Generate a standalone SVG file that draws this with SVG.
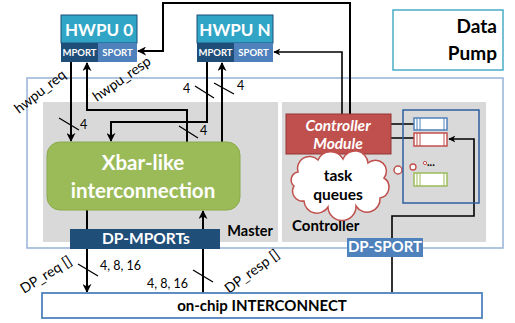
<svg xmlns="http://www.w3.org/2000/svg" width="515" height="323" viewBox="0 0 515 323">
  <defs>
    <marker id="arr" viewBox="0 0 10 10" refX="9" refY="5" markerWidth="4.5" markerHeight="4.5" orient="auto">
      <path d="M0,0 L10,5 L0,10 L3,5 Z" fill="#000"/>
    </marker>
    <style>
      text { font-family: "Lato", "Liberation Sans", sans-serif; }
      .b { font-weight: bold; }
      .wire { fill: none; stroke: #000; stroke-width: 2; }
      .thin { fill: none; stroke: #000; stroke-width: 1.6; }
      .tick { stroke: #000; stroke-width: 1.3; }
      .lbl { font-size: 12.5px; fill: #000; }
      .sig { font-size: 14px; fill: #000; }
      .port { font-size: 9.5px; font-weight: bold; fill: #fff; text-anchor: middle; }
      .hw { font-size: 17px; font-weight: bold; fill: #fff; text-anchor: middle; }
      .q { fill: #fff; stroke-width: 1.5; }
    </style>
  </defs>

  <rect width="515" height="323" fill="#fff"/>

  <!-- Data Pump frame -->
  <g id="datapump">
    <rect x="27" y="78" width="476" height="170" fill="none" stroke="#95b3d7" stroke-width="1.5"/>
    <rect x="43" y="102" width="235" height="140" fill="#d9d9d9"/>
    <rect x="282" y="102" width="204" height="140" fill="#d9d9d9"/>
    <text x="273" y="236" class="b" font-size="14.5" text-anchor="end">Master</text>
    <text x="292" y="231" class="b" font-size="15">Controller</text>
  </g>

  <g id="label-datapump">
    <rect x="393" y="10" width="110" height="60" fill="#fff" stroke="#4bacc6" stroke-width="1.5"/>
    <text x="497" y="33" class="b" font-size="19" text-anchor="end">Data</text>
    <text x="497" y="60" class="b" font-size="19" text-anchor="end">Pump</text>
  </g>

  <!-- Hardware processing units -->
  <g id="hwpu0">
    <rect x="61" y="15" width="76" height="28" fill="#31a5c6" stroke="#1f4e79" stroke-width="1"/>
    <rect x="61" y="43" width="37" height="19" fill="#1f4e79"/>
    <rect x="98" y="43" width="39" height="19" fill="#4f81bd"/>
    <text x="99" y="36" class="hw">HWPU 0</text>
    <text x="79.5" y="56" class="port">MPORT</text>
    <text x="117.5" y="56" class="port">SPORT</text>
  </g>
  <g id="hwpuN">
    <rect x="197" y="15" width="76" height="28" fill="#31a5c6" stroke="#1f4e79" stroke-width="1"/>
    <rect x="197" y="43" width="37" height="19" fill="#1f4e79"/>
    <rect x="234" y="43" width="39" height="19" fill="#4f81bd"/>
    <text x="235" y="36" class="hw">HWPU N</text>
    <text x="215.5" y="56" class="port">MPORT</text>
    <text x="253.5" y="56" class="port">SPORT</text>
  </g>

  <!-- Connectors -->
  <g id="connectors">
    <!-- controller to HWPU slave ports -->
    <path class="wire" d="M350,114 V3 H163 V51 H138" marker-end="url(#arr)"/>
    <path class="thin" d="M342,114 V52 H274" marker-end="url(#arr)"/>
    <!-- HWPU 0 master port -->
    <path class="wire" d="M71,62 V141" marker-end="url(#arr)"/>
    <path class="wire" d="M187,142 V110 H87 V63" marker-end="url(#arr)"/>
    <!-- HWPU N master port -->
    <path class="wire" d="M207,62 V122 H111 V141" marker-end="url(#arr)"/>
    <path class="wire" d="M222,142 V63" marker-end="url(#arr)"/>
    <!-- DP master ports -->
    <path class="wire" d="M87,210 V292" marker-end="url(#arr)"/>
    <path class="wire" d="M203,293 V211" marker-end="url(#arr)"/>
    <!-- DP slave port -->
    <path class="thin" d="M392,293 V216 H474 V139 H449" marker-end="url(#arr)"/>
    <!-- controller to queues -->
    <path class="thin" d="M391,124 H414 M391,138 H414"/>

    <!-- width ticks -->
    <line class="tick" x1="59" y1="118" x2="79" y2="130"/>
    <text x="80" y="129" class="lbl">4</text>
    <line class="tick" x1="179" y1="126" x2="198" y2="138"/>
    <text x="200" y="135" class="lbl">4</text>
    <line class="tick" x1="195" y1="86" x2="214" y2="98"/>
    <text x="183" y="93" class="lbl">4</text>
    <line class="tick" x1="214" y1="83" x2="234" y2="94"/>
    <text x="237" y="90" class="lbl">4</text>
    <line class="tick" x1="78" y1="264" x2="98" y2="276"/>
    <text x="100" y="270" class="lbl">4, 8, 16</text>
    <line class="tick" x1="193" y1="270" x2="213" y2="282"/>
    <text x="147" y="288" class="lbl">4, 8, 16</text>

    <!-- signal names -->
    <text x="0" y="0" class="sig" transform="translate(19,114) rotate(-38)">hwpu_req</text>
    <text x="0" y="0" class="sig" transform="translate(97,102) rotate(-35)">hwpu_resp</text>
    <text x="0" y="0" class="sig" transform="translate(24,294) rotate(-32)">DP_req []</text>
    <text x="0" y="0" class="sig" transform="translate(229,294) rotate(-36)">DP_resp []</text>
  </g>

  <g id="xbar">
    <rect x="47" y="142" width="193" height="68" rx="13" fill="#9bbb59" stroke="#8aab4a" stroke-width="1"/>
    <text x="143" y="170" class="b" font-size="20.5" fill="#fff" text-anchor="middle">Xbar-like</text>
    <text x="143" y="198" class="b" font-size="20.5" fill="#fff" text-anchor="middle">interconnection</text>
  </g>

  <g id="dp-mports">
    <rect x="70" y="229" width="150" height="20" fill="#1f4e79"/>
    <text x="146" y="244" class="b" font-size="15.5" fill="#fff" text-anchor="middle">DP-MPORTs</text>
  </g>

  <g id="controller-module">
    <rect x="286" y="114" width="105" height="40" fill="#c0504d" stroke="#943634" stroke-width="1"/>
    <text x="338" y="131" class="b" font-size="15.5" font-style="italic" fill="#fff" text-anchor="middle">Controller</text>
    <text x="338" y="149" class="b" font-size="15.5" font-style="italic" fill="#fff" text-anchor="middle">Module</text>
  </g>

  <g id="task-queues">
    <path d="M298,172 A12,12 0 0 1 318,160 A14,14 0 0 1 343,159 A13,13 0 0 1 368,163 A11,11 0 0 1 384,178 A11,11 0 0 1 380,198 A13,13 0 0 1 356,206 A14,14 0 0 1 328,207 A13,13 0 0 1 304,201 A10,10 0 0 1 294,186 A8,8 0 0 1 298,172 Z" fill="#fff" stroke="#c0504d" stroke-width="1.5"/>
    <text x="338" y="181" class="b" font-size="15.5" text-anchor="middle">task</text>
    <text x="338" y="200" class="b" font-size="15.5" text-anchor="middle">queues</text>
    <circle cx="398" cy="170" r="4" fill="#fff" stroke="#c0504d" stroke-width="1.5"/>
    <circle cx="413" cy="167" r="3" fill="#fff" stroke="#c0504d" stroke-width="1.3"/>
    <circle cx="425" cy="163" r="1.6" fill="#fff" stroke="#c0504d" stroke-width="1"/>
    <text x="427" y="166" class="b" font-size="11">...</text>
  </g>

  <g id="queue-set">
    <rect x="403" y="110" width="76" height="93" fill="none" stroke="#2e5f9e" stroke-width="1.5"/>
    <g stroke="#4f81bd">
      <rect class="q" x="414" y="118" width="33" height="12"/>
      <path d="M417,118 V130 M420,118 V130 M444,118 V130" stroke-width="1"/>
    </g>
    <g stroke="#c0504d">
      <rect class="q" x="414" y="133" width="33" height="13"/>
      <path d="M417,133 V146 M420,133 V146 M444,133 V146" stroke-width="1"/>
    </g>
    <g stroke="#9bbb59">
      <rect class="q" x="414" y="173" width="33" height="13"/>
      <path d="M417,173 V186 M420,173 V186 M444,173 V186" stroke-width="1"/>
    </g>
  </g>

  <g id="dp-sport">
    <rect x="347" y="238" width="76" height="19" fill="#4f81bd"/>
    <text x="385" y="252" class="b" font-size="15" fill="#fff" text-anchor="middle">DP-SPORT</text>
  </g>

  <g id="interconnect">
    <rect x="42" y="293" width="440" height="25" fill="#fff" stroke="#4f81bd" stroke-width="1.8"/>
    <text x="262" y="311" class="b" font-size="15" text-anchor="middle">on-chip INTERCONNECT</text>
  </g>
</svg>
